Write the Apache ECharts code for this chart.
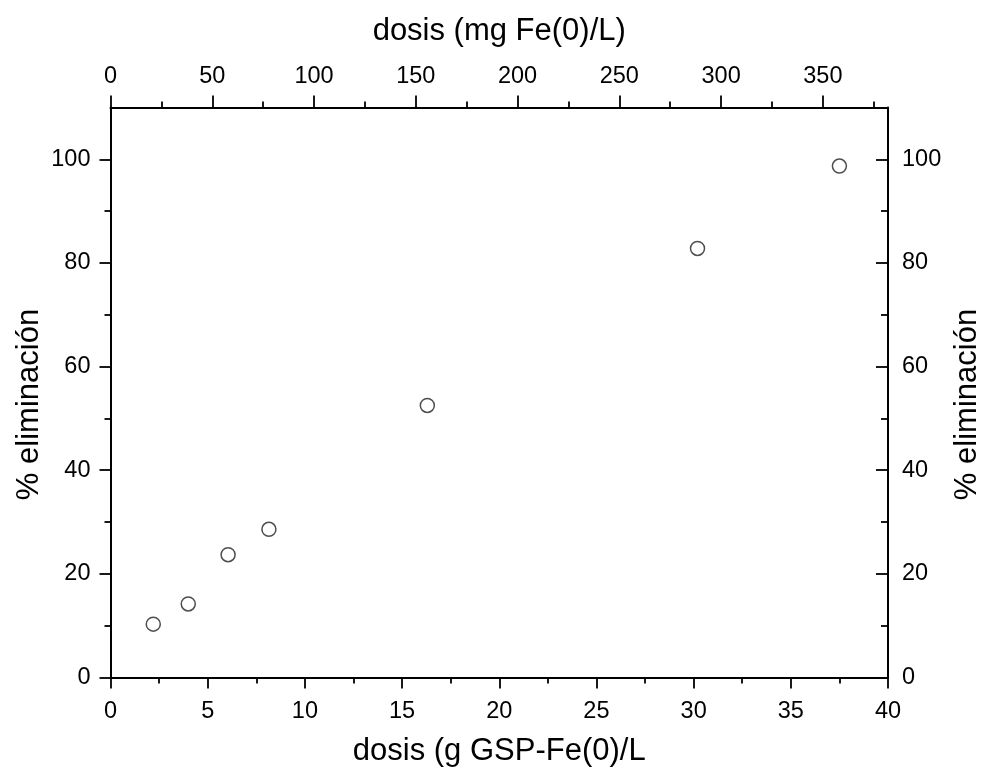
<!DOCTYPE html>
<html>
<head>
<meta charset="utf-8">
<script src="https://cdn.jsdelivr.net/npm/echarts@6/dist/echarts.min.js"></script>
<style>
html,body{margin:0;padding:0;background:#fff;}
#chart{width:982px;height:769px;}
</style>
</head>
<body>
<div id="chart"></div>
<script>
// Data
const doseG = [2.2, 4.0, 6.05, 8.15, 16.3, 30.2, 37.5];      // g GSP-Fe(0)/L
const removal = [10.3, 14.2, 23.7, 28.6, 52.5, 82.8, 98.7];   // % eliminación

// Axis ticks
const bottomMin = 0, bottomMax = 40, bottomStep = 5;
const topMax = 382;
const topMajor = [0, 50, 100, 150, 200, 250, 300, 350];
const topMinor = [25, 75, 125, 175, 225, 275, 325, 375];
const yMax = 110;
const yMajor = [0, 20, 40, 60, 80, 100];
const yMinor = [10, 30, 50, 70, 90];

const font = '"Liberation Sans", Arial, sans-serif';
const lineStyle = {color: '#000', width: 2};
const tickStyle = {color: '#000', width: 1.8};
const labelStyle = {color: '#000', fontSize: 23.5, fontFamily: font};
const nameStyle = {color: '#000', fontSize: 31, fontFamily: font};

const chart = echarts.init(document.getElementById('chart'), null, {renderer: 'canvas'});
chart.setOption({
  backgroundColor: '#fff',
  animation: false,
  grid: {left: 110.5, right: 94, top: 107.5, bottom: 91.5, containLabel: false, outerBoundsMode: 'none'},
  xAxis: [
    {
      type: 'value', position: 'bottom', min: bottomMin, max: bottomMax, interval: bottomStep,
      name: 'dosis (g GSP-Fe(0)/L', nameLocation: 'middle', nameGap: 58, nameTextStyle: nameStyle,
      axisLine: {show: true, onZero: false, lineStyle: lineStyle},
      axisTick: {show: true, inside: false, length: 11, lineStyle: tickStyle},
      minorTick: {show: true, splitNumber: 2, length: 6, lineStyle: tickStyle},
      axisLabel: Object.assign({margin: 22}, labelStyle),
      splitLine: {show: false}
    },
    {
      type: 'value', position: 'top', min: 0, max: topMax,
      name: 'dosis (mg Fe(0)/L)', nameLocation: 'middle', nameGap: 61, nameTextStyle: nameStyle,
      axisLine: {show: true, onZero: false, lineStyle: lineStyle},
      axisTick: {show: true, inside: false, length: 12, lineStyle: tickStyle, customValues: topMajor},
      axisLabel: Object.assign({margin: 19, customValues: topMajor}, labelStyle),
      splitLine: {show: false}
    },
    {
      type: 'value', position: 'top', min: 0, max: topMax,
      axisLine: {show: false, onZero: false},
      axisTick: {show: true, inside: false, length: 6, lineStyle: tickStyle, customValues: topMinor},
      axisLabel: {show: false},
      splitLine: {show: false}
    }
  ],
  yAxis: [
    {
      type: 'value', position: 'left', min: 0, max: yMax,
      name: '% eliminación', nameLocation: 'middle', nameGap: 66, nameRotate: 90, nameMoveOverlap: false,
      nameTextStyle: Object.assign({padding: [0, 24, 0, 0]}, nameStyle),
      axisLine: {show: true, onZero: false, lineStyle: lineStyle},
      axisTick: {show: true, inside: false, length: 11, lineStyle: tickStyle, customValues: yMajor},
      axisLabel: Object.assign({margin: 20, customValues: yMajor}, labelStyle),
      splitLine: {show: false}
    },
    {
      type: 'value', position: 'left', min: 0, max: yMax,
      axisLine: {show: false, onZero: false},
      axisTick: {show: true, inside: false, length: 6, lineStyle: tickStyle, customValues: yMinor},
      axisLabel: {show: false},
      splitLine: {show: false}
    },
    {
      type: 'value', position: 'right', min: 0, max: yMax,
      name: '% eliminación', nameLocation: 'middle', nameGap: 57, nameRotate: 90,
      nameTextStyle: Object.assign({padding: [0, 24, 0, 0]}, nameStyle),
      axisLine: {show: true, onZero: false, lineStyle: lineStyle},
      axisTick: {show: true, inside: true, length: 12, lineStyle: tickStyle, customValues: yMajor},
      axisLabel: Object.assign({margin: 14, customValues: yMajor}, labelStyle),
      splitLine: {show: false}
    },
    {
      type: 'value', position: 'right', min: 0, max: yMax,
      axisLine: {show: false, onZero: false},
      axisTick: {show: true, inside: true, length: 7, lineStyle: tickStyle, customValues: yMinor},
      axisLabel: {show: false},
      splitLine: {show: false}
    }
  ],
  series: [{
    type: 'scatter',
    xAxisIndex: 0, yAxisIndex: 0,
    data: doseG.map((x, i) => [x, removal[i]]),
    symbol: 'circle', symbolSize: 14,
    itemStyle: {color: '#fff', borderColor: '#222', borderWidth: 1.5}
  }]
});
</script>
</body>
</html>
